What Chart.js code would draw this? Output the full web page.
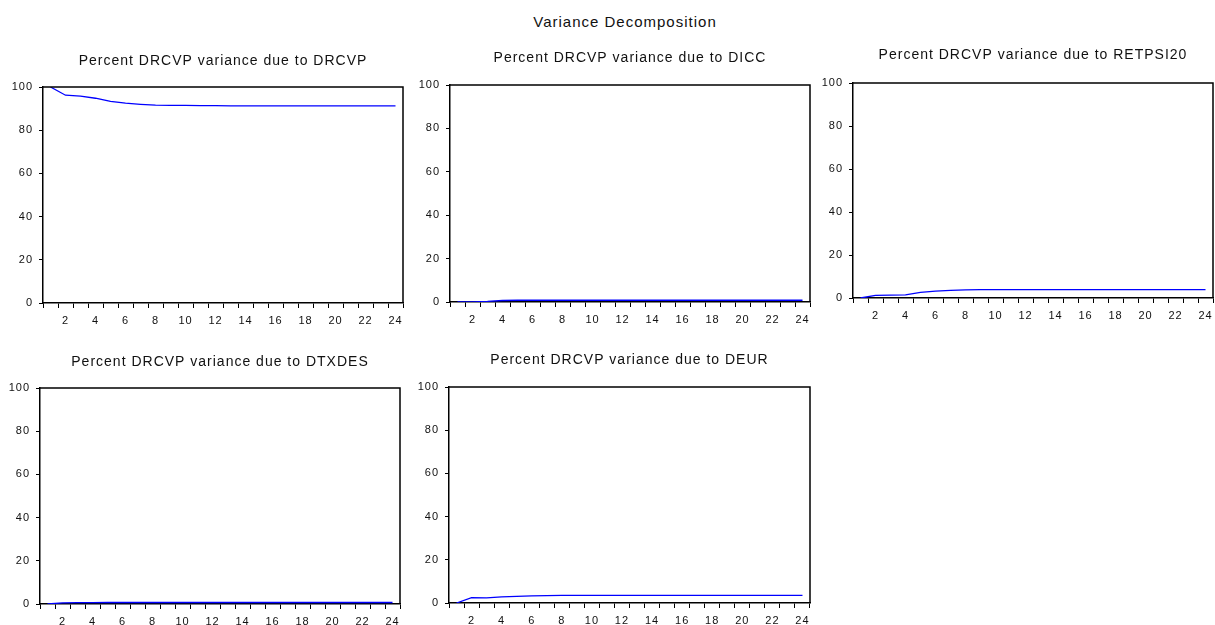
<!DOCTYPE html>
<html>
<head>
<meta charset="utf-8">
<script src="https://cdn.jsdelivr.net/npm/chart.js@4.4.1/dist/chart.umd.min.js"></script>
<style>
  html, body { margin: 0; padding: 0; background: #fff; width: 1215px; height: 625px; overflow: hidden; }
  #main-title { position: absolute; left: 475px; width: 300px; top: 13px; text-align: center;
    font-family: "Liberation Sans", Arial, sans-serif; font-size: 15px; line-height: 17px; letter-spacing: 1px; color: #111; }
  canvas { position: absolute; }
</style>
</head>
<body>
<div id="main-title">Variance Decomposition</div>
<script>
// ---- data ----
const mainTitle = "Variance Decomposition";
const periods = ['1','2','3','4','5','6','7','8','9','10','11','12','13','14','15','16','17','18','19','20','21','22','23','24'];
const xTickLabels = ['2','4','6','8','10','12','14','16','18','20','22','24'];
const yTickValues = [0, 20, 40, 60, 80, 100];

const panelTitles = [
  'Percent DRCVP variance due to DRCVP',
  'Percent DRCVP variance due to DICC',
  'Percent DRCVP variance due to RETPSI20',
  'Percent DRCVP variance due to DTXDES',
  'Percent DRCVP variance due to DEUR'
];

const drcvp    = [100.0, 96.2, 95.8, 94.8, 93.3, 92.5, 92.0, 91.6, 91.5, 91.5, 91.4, 91.4, 91.3, 91.3, 91.3, 91.3, 91.3, 91.3, 91.3, 91.3, 91.3, 91.3, 91.3, 91.3];
const dicc     = [0.0, 0.1, 0.3, 0.7, 0.8, 0.8, 0.8, 0.8, 0.8, 0.8, 0.8, 0.8, 0.8, 0.8, 0.8, 0.8, 0.8, 0.8, 0.8, 0.8, 0.8, 0.8, 0.8, 0.8];
const retpsi20 = [0.0, 1.2, 1.3, 1.5, 2.6, 3.2, 3.5, 3.8, 3.9, 3.9, 3.9, 3.9, 3.9, 3.9, 3.9, 3.9, 3.9, 3.9, 3.9, 3.9, 3.9, 3.9, 3.9, 3.9];
const dtxdes   = [0.0, 0.5, 0.6, 0.6, 0.7, 0.7, 0.7, 0.7, 0.7, 0.7, 0.7, 0.7, 0.7, 0.7, 0.7, 0.7, 0.7, 0.7, 0.7, 0.7, 0.7, 0.7, 0.7, 0.7];
const deur     = [0.0, 2.5, 2.4, 2.8, 3.1, 3.3, 3.4, 3.5, 3.5, 3.5, 3.5, 3.5, 3.5, 3.5, 3.5, 3.5, 3.5, 3.5, 3.5, 3.5, 3.5, 3.5, 3.5, 3.5];
const seriesList = [drcvp, dicc, retpsi20, dtxdes, deur];

// ---- layout (plot-area rectangles in page pixels) ----
const panels = [
  { x0: 43,  x1: 403,  y0: 87,  y1: 303, titleOff: 26 },
  { x0: 450, x1: 810,  y0: 85,  y1: 302, titleOff: 27 },
  { x0: 853, x1: 1213, y0: 83,  y1: 298, titleOff: 28 },
  { x0: 40,  x1: 400,  y0: 388, y1: 604, titleOff: 26 },
  { x0: 449, x1: 810,  y0: 387, y1: 603, titleOff: 27 }
];

document.getElementById('main-title').textContent = mainTitle;

const FONT = '"Liberation Sans", Arial, Helvetica, sans-serif';
const Y_W = 45, TOP_H = 40, X_H = 30, RIGHT_PAD = 5;

const spacingPlugin = {
  id: 'spacing',
  beforeUpdate(chart) { chart.ctx.letterSpacing = '1px'; },
  beforeLayout(chart) { chart.ctx.letterSpacing = '1px'; },
  beforeDraw(chart) { chart.ctx.letterSpacing = '1px'; }
};

const framePlugin = {
  id: 'frame',
  afterDraw(chart) {
    const a = chart.chartArea, ctx = chart.ctx;
    ctx.save();
    ctx.strokeStyle = '#000';
    ctx.lineWidth = 1.5;
    ctx.beginPath();
    ctx.moveTo(a.left, a.top);
    ctx.lineTo(a.right, a.top);
    ctx.lineTo(a.right, a.bottom);
    ctx.stroke();
    ctx.restore();
  }
};

panels.forEach((p, i) => {
  const c = document.createElement('canvas');
  const W = (p.x1 - p.x0) + Y_W + RIGHT_PAD;
  const H = (p.y1 - p.y0) + TOP_H + X_H;
  c.width = W; c.height = H;
  c.style.width = W + 'px'; c.style.height = H + 'px';
  c.style.left = (p.x0 - Y_W) + 'px';
  c.style.top = (p.y0 - TOP_H) + 'px';
  document.body.appendChild(c);

  const tSize = 14;
  const padTop = TOP_H - p.titleOff - tSize / 2;
  const padBottom = TOP_H - tSize - padTop;

  new Chart(c.getContext('2d'), {
    type: 'line',
    data: {
      labels: periods,
      datasets: [{
        data: seriesList[i],
        borderColor: '#0000ff',
        borderWidth: 1.3,
        pointRadius: 0,
        tension: 0,
        fill: false
      }]
    },
    options: {
      responsive: false,
      animation: false,
      devicePixelRatio: 1,
      layout: { padding: { left: 0, right: RIGHT_PAD, top: 0, bottom: 0 } },
      plugins: {
        legend: { display: false },
        tooltip: { enabled: false },
        title: {
          display: true,
          text: panelTitles[i],
          fullSize: false,
          color: '#111',
          font: { family: FONT, size: tSize, weight: 'normal', lineHeight: 1 },
          padding: { top: padTop, bottom: padBottom }
        }
      },
      scales: {
        x: {
          type: 'category',
          offset: true,
          grid: { offset: true, drawOnChartArea: false, drawTicks: true, tickLength: 5, color: '#000', lineWidth: 1 },
          border: { display: true, color: '#000', width: 1.5 },
          ticks: {
            autoSkip: false, maxRotation: 0, minRotation: 0, padding: 6,
            color: '#111', font: { family: FONT, size: 11 },
            callback: function (v, idx) {
              const lab = periods[idx];
              return xTickLabels.includes(lab) ? lab : '';
            }
          },
          afterFit(scale) { scale.height = X_H; scale.paddingLeft = 0; scale.paddingRight = 0; }
        },
        y: {
          type: 'linear',
          min: 0, max: 100,
          grid: { drawOnChartArea: false, drawTicks: true, tickLength: 4, color: '#000', lineWidth: 1 },
          border: { display: true, color: '#000', width: 1.5 },
          ticks: { padding: 6, color: '#111', font: { family: FONT, size: 11 } },
          afterBuildTicks(scale) { scale.ticks = yTickValues.map(v => ({ value: v })); },
          afterFit(scale) { scale.width = Y_W; scale.paddingTop = 0; scale.paddingBottom = 0; }
        }
      }
    },
    plugins: [spacingPlugin, framePlugin]
  });
});
</script>
</body>
</html>
